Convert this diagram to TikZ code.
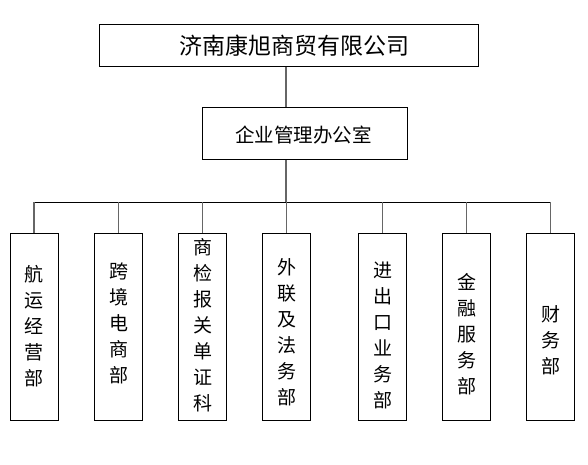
\documentclass[tikz,border=0pt]{standalone}
\usepackage{fontspec}
\newfontfamily\cjk{Noto Sans CJK SC}
\definecolor{connGray}{HTML}{666666}
\tikzset{
  orgbox/.style={draw=black, line width=1pt, fill=white, inner sep=0pt},
  dept/.style={orgbox, minimum width=48pt, minimum height=187pt},
  conn/.style={draw=connGray, line width=1.7pt},
  bar/.style={draw=black, line width=1pt},
  vtext/.style={font=\cjk\fontsize{19}{26}\selectfont, align=center, inner sep=0pt}
}
\begin{document}
\begin{tikzpicture}[x=1pt,y=-1pt]
\useasboundingbox[fill=white] (0,0) rectangle (588,465);
% top and middle boxes
\node[orgbox, minimum width=379pt, minimum height=42pt] (top) at (288.5,46) {};
\node[font=\cjk\fontsize{23}{26}\selectfont, inner sep=0pt] (toptext) at (294.5,46) {济南康旭商贸有限公司};
\node[orgbox, minimum width=205pt, minimum height=52pt] (mid) at (304.5,134) {};
\node[font=\cjk\fontsize{19.5}{22}\selectfont, inner sep=0pt] (midtext) at (303.5,135) {企业管理办公室};
\coordinate (bus) at (286,202);
% department boxes
\node[dept] (d1) at (34,326.5) {};
\node[dept] (d2) at (118.5,326.5) {};
\node[dept] (d3) at (202.5,326.5) {};
\node[dept] (d4) at (286.5,326.5) {};
\node[dept] (d5) at (382.5,326.5) {};
\node[dept] (d6) at (466.5,326.5) {};
\node[dept] (d7) at (550.5,326.5) {};
% department texts
\node[vtext] (t1) at (34,326) {航\\运\\经\\营\\部};
\node[vtext] (t2) at (118.5,323) {跨\\境\\电\\商\\部};
\node[vtext] (t3) at (202.5,325) {商\\检\\报\\关\\单\\证\\科};
\node[vtext] (t4) at (286.5,332) {外\\联\\及\\法\\务\\部};
\node[vtext] (t5) at (382.5,335) {进\\出\\口\\业\\务\\部};
\node[vtext] (t6) at (466.5,334) {金\\融\\服\\务\\部};
\node[vtext] (t7) at (550.5,340) {财\\务\\部};
% connectors
\draw[conn] (top.south -| bus) -- (mid.north -| bus);
\draw[conn] (mid.south -| bus) -- (bus);
\draw[bar] (d1.north |- bus) -- (d7.north |- bus);
\foreach \d in {d1,d2,d3,d4,d5,d6,d7}
  \draw[conn] (\d.north |- bus) -- (\d.north);
\end{tikzpicture}
\end{document}
